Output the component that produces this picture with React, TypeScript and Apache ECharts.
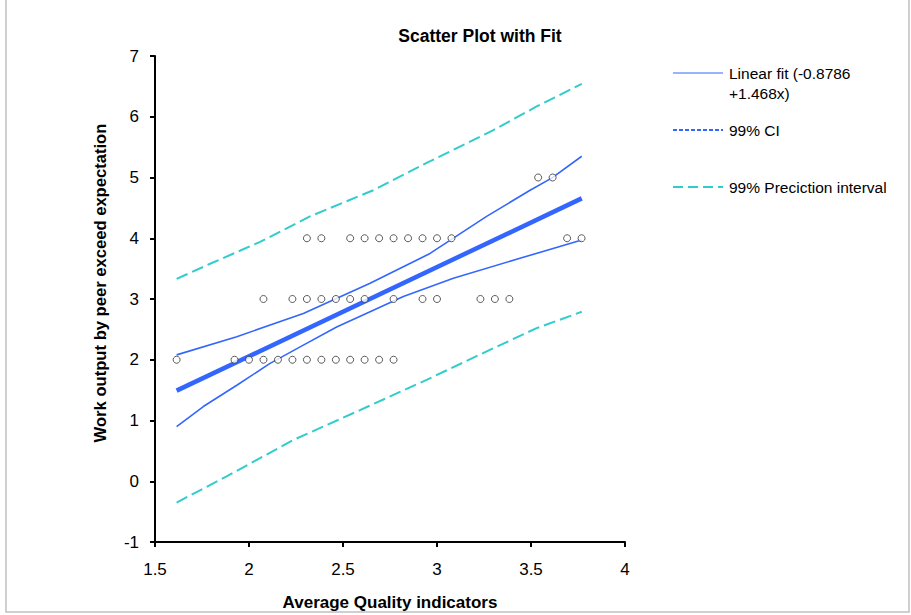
import React, { useEffect, useRef } from "react";
import * as echarts from "echarts";

const FONT = "'Liberation Sans', Arial, sans-serif";

// Observed points (x = average quality indicator, y = work output)
const row2X = [1.615, 1.923, 2.0, 2.077, 2.154, 2.231, 2.308, 2.385, 2.462, 2.538, 2.615, 2.692, 2.769];
const row3X = [2.077, 2.231, 2.308, 2.385, 2.462, 2.538, 2.615, 2.769, 2.923, 3.0, 3.231, 3.308, 3.385];
const row4X = [2.308, 2.385, 2.538, 2.615, 2.692, 2.769, 2.846, 2.923, 3.0, 3.077, 3.692, 3.769];
const row5X = [3.538, 3.615];

// Fit line endpoints: y = -0.8786 + 1.468x
const fitLine = [
  [1.615, 1.492],
  [3.77, 4.656],
];

// 99% CI bands
const ciUpper = [
  [1.615, 2.08], [1.935, 2.38], [2.289, 2.76], [2.644, 3.26], [2.963, 3.75],
  [3.264, 4.36], [3.495, 4.79], [3.61, 4.99], [3.77, 5.35],
];
const ciLower = [
  [1.615, 0.9], [1.757, 1.23], [1.935, 1.58], [2.112, 1.94], [2.289, 2.24],
  [2.466, 2.54], [2.644, 2.79], [2.821, 3.04], [3.087, 3.34], [3.441, 3.67],
  [3.77, 3.97],
];

// 99% prediction interval
const piUpper = [
  [1.615, 3.33], [1.793, 3.58], [2.059, 3.94], [2.324, 4.36], [2.661, 4.79],
  [2.945, 5.24], [3.3, 5.78], [3.53, 6.17], [3.77, 6.54],
];
const piLower = [
  [1.615, -0.35], [1.881, 0.08], [2.236, 0.68], [2.59, 1.17], [2.945, 1.67],
  [3.3, 2.19], [3.53, 2.52], [3.77, 2.79],
];

const xTicks = { min: 1.5, max: 4, interval: 0.5 };
const yTicks = { min: -1, max: 7, interval: 1 };

const BLUE = "#3366ff";
const TEAL = "#33cccc";

export default function App() {
  const ref = useRef<HTMLDivElement>(null);
  useEffect(() => {
    if (!ref.current) return;
    const chart = echarts.init(ref.current, undefined, { renderer: "svg" });
    const points = [
      ...row2X.map((x) => [x, 2]),
      ...row3X.map((x) => [x, 3]),
      ...row4X.map((x) => [x, 4]),
      ...row5X.map((x) => [x, 5]),
    ];
    const axisCommon = {
      axisLine: { onZero: false, lineStyle: { color: "#000", width: 2 } },
      axisTick: { show: true, length: 5, lineStyle: { color: "#000", width: 2 } },
      splitLine: { show: false },
    };
    chart.setOption({
      animation: false,
      backgroundColor: "#fff",
      grid: { left: 155, right: 286, top: 56, bottom: 73 },
      xAxis: {
        type: "value",
        ...xTicks,
        ...axisCommon,
        axisLabel: { color: "#000", fontSize: 17, fontFamily: FONT, margin: 19 },
      },
      yAxis: {
        type: "value",
        ...yTicks,
        ...axisCommon,
        axisLabel: { color: "#000", fontSize: 17, fontFamily: FONT, margin: 16 },
      },
      series: [
        {
          type: "line",
          data: piUpper,
          showSymbol: false,
          lineStyle: { color: TEAL, width: 2, type: [12, 5] },
        },
        {
          type: "line",
          data: piLower,
          showSymbol: false,
          lineStyle: { color: TEAL, width: 2, type: [12, 5] },
        },
        {
          type: "line",
          data: ciUpper,
          showSymbol: false,
          lineStyle: { color: BLUE, width: 1.6 },
        },
        {
          type: "line",
          data: ciLower,
          showSymbol: false,
          lineStyle: { color: BLUE, width: 1.6 },
        },
        {
          type: "line",
          data: fitLine,
          showSymbol: false,
          lineStyle: { color: BLUE, width: 4.5 },
        },
        {
          type: "scatter",
          data: points,
          symbol: "circle",
          symbolSize: 7,
          itemStyle: { color: "#fff", borderColor: "#333", borderWidth: 1 },
          z: 5,
        },
      ],
      graphic: [
        {
          type: "rect",
          shape: { x: 6, y: -2, width: 903, height: 614 },
          style: { fill: "none", stroke: "#c0c0c0", lineWidth: 1.5 },
          silent: true,
        },
        {
          type: "text",
          x: 480,
          y: 36,
          style: {
            text: "Scatter Plot with Fit",
            fontFamily: FONT,
            fontWeight: "bold",
            fontSize: 17.5,
            fill: "#000",
            align: "center",
            verticalAlign: "middle",
          },
        },
        {
          type: "text",
          x: 390,
          y: 602,
          style: {
            text: "Average Quality indicators",
            fontFamily: FONT,
            fontWeight: "bold",
            fontSize: 17,
            fill: "#000",
            align: "center",
            verticalAlign: "middle",
          },
        },
        {
          type: "text",
          x: 100,
          y: 283,
          rotation: Math.PI / 2,
          style: {
            text: "Work output by peer exceed expectation",
            fontFamily: FONT,
            fontWeight: "bold",
            fontSize: 16.6,
            fill: "#000",
            align: "center",
            verticalAlign: "middle",
          },
        },
        {
          type: "line",
          shape: { x1: 673, y1: 73, x2: 723, y2: 73 },
          style: { stroke: BLUE, lineWidth: 1 },
        },
        {
          type: "text",
          x: 729,
          y: 73,
          style: {
            text: "Linear fit (-0.8786",
            fontFamily: FONT,
            fontSize: 15.5,
            fill: "#000",
            verticalAlign: "middle",
          },
        },
        {
          type: "text",
          x: 729,
          y: 93,
          style: {
            text: "+1.468x)",
            fontFamily: FONT,
            fontSize: 15.5,
            fill: "#000",
            verticalAlign: "middle",
          },
        },
        {
          type: "line",
          shape: { x1: 673, y1: 130, x2: 723, y2: 130 },
          style: { stroke: BLUE, lineWidth: 2, lineDash: [4, 2] },
        },
        {
          type: "text",
          x: 729,
          y: 130,
          style: {
            text: "99% CI",
            fontFamily: FONT,
            fontSize: 15.5,
            fill: "#000",
            verticalAlign: "middle",
          },
        },
        {
          type: "line",
          shape: { x1: 673, y1: 187, x2: 723, y2: 187 },
          style: { stroke: TEAL, lineWidth: 2, lineDash: [10, 5] },
        },
        {
          type: "text",
          x: 729,
          y: 187,
          style: {
            text: "99% Preciction interval",
            fontFamily: FONT,
            fontSize: 15.5,
            fill: "#000",
            verticalAlign: "middle",
          },
        },
      ],
    });
    return () => chart.dispose();
  }, []);
  return (
    <div
      ref={ref}
      style={{ position: "fixed", left: 0, top: 0, width: 911, height: 615 }}
    />
  );
}
